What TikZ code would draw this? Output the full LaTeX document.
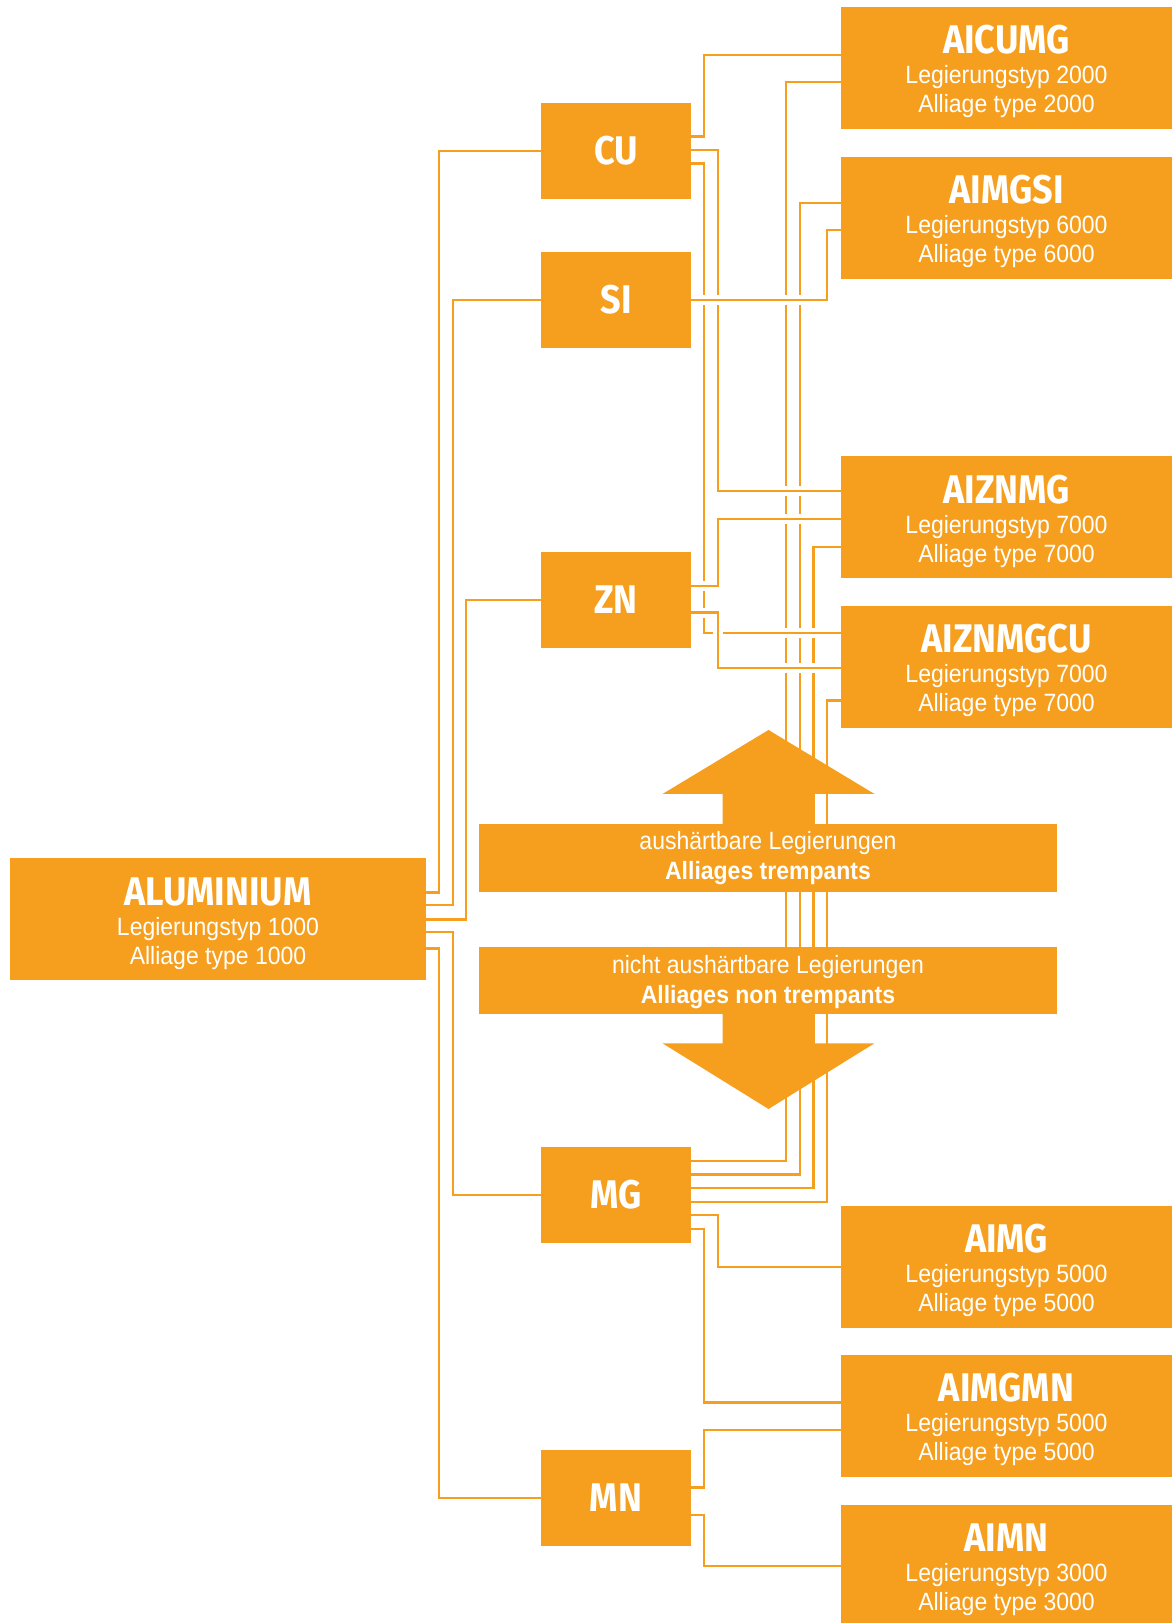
\documentclass[tikz,border=0pt]{standalone}
\usepackage{fontspec}
\newfontfamily\headfont[FakeStretch=0.9]{Fira Sans}
\newfontfamily\subfont[FakeStretch=0.92]{Liberation Sans}
\definecolor{alu}{RGB}{246,159,30}

\begin{document}
\begin{tikzpicture}[x=1pt,y=1pt,
    alloy/.style={fill=alu, minimum width=331pt, minimum height=122pt, inner sep=0pt},
    elem/.style={fill=alu, minimum width=150pt, minimum height=96pt, inner sep=0pt,
      text=white, font=\headfont\bfseries\fontsize{40}{40}\selectfont},
    head/.style={anchor=base, inner sep=0pt, text=white,
      font=\headfont\bfseries\fontsize{40}{40}\selectfont},
    sub/.style={anchor=base, inner sep=0pt, text=white,
      font=\subfont\fontsize{25}{29}\selectfont},
    banner/.style={fill=alu, minimum width=578pt, minimum height=67.4pt, inner sep=0pt},
    link/.style={draw=alu, line width=2.4pt, preaction={draw=white, line width=10pt}}]
  \useasboundingbox (0,0) rectangle (1172,1623);

  \begin{scope}
    % boxes
    \node[alloy] (aluminium) at (218,703.6) [minimum width=416pt] {};
    \node[head] (aluminium-h) at ([yshift=-47]aluminium.north) {ALUMINIUM};
    \node[sub] (aluminium-l) at ([yshift=-77]aluminium.north) {Legierungstyp 1000};
    \node[sub] (aluminium-a) at ([yshift=-106]aluminium.north) {Alliage type 1000};

    \node[elem] (cu) at (616,1472) {CU};
    \node[elem] (si) at (616,1323) {SI};
    \node[elem] (zn) at (616,1023) {ZN};
    \node[elem] (mg) at (616,428) {MG};
    \node[elem] (mn) at (616,125) {MN};

    \node[alloy] (aicumg) at (1006.5,1555) {};
    \node[head] (aicumg-h) at ([yshift=-47]aicumg.north) {AICUMG};
    \node[sub] (aicumg-l) at ([yshift=-77]aicumg.north) {Legierungstyp 2000};
    \node[sub] (aicumg-a) at ([yshift=-106]aicumg.north) {Alliage type 2000};

    \node[alloy] (aimgsi) at (1006.5,1405) {};
    \node[head] (aimgsi-h) at ([yshift=-47]aimgsi.north) {AIMGSI};
    \node[sub] (aimgsi-l) at ([yshift=-77]aimgsi.north) {Legierungstyp 6000};
    \node[sub] (aimgsi-a) at ([yshift=-106]aimgsi.north) {Alliage type 6000};

    \node[alloy] (aiznmg) at (1006.5,1105.5) {};
    \node[head] (aiznmg-h) at ([yshift=-47]aiznmg.north) {AIZNMG};
    \node[sub] (aiznmg-l) at ([yshift=-77]aiznmg.north) {Legierungstyp 7000};
    \node[sub] (aiznmg-a) at ([yshift=-106]aiznmg.north) {Alliage type 7000};

    \node[alloy] (aiznmgcu) at (1006.5,956) {};
    \node[head] (aiznmgcu-h) at ([yshift=-47]aiznmgcu.north) {AIZNMGCU};
    \node[sub] (aiznmgcu-l) at ([yshift=-77]aiznmgcu.north) {Legierungstyp 7000};
    \node[sub] (aiznmgcu-a) at ([yshift=-106]aiznmgcu.north) {Alliage type 7000};

    \node[alloy] (aimg) at (1006.5,356) {};
    \node[head] (aimg-h) at ([yshift=-47]aimg.north) {AIMG};
    \node[sub] (aimg-l) at ([yshift=-77]aimg.north) {Legierungstyp 5000};
    \node[sub] (aimg-a) at ([yshift=-106]aimg.north) {Alliage type 5000};

    \node[alloy] (aimgmn) at (1006.5,207) {};
    \node[head] (aimgmn-h) at ([yshift=-47]aimgmn.north) {AIMGMN};
    \node[sub] (aimgmn-l) at ([yshift=-77]aimgmn.north) {Legierungstyp 5000};
    \node[sub] (aimgmn-a) at ([yshift=-106]aimgmn.north) {Alliage type 5000};

    \node[alloy] (aimn) at (1006.5,57) {};
    \node[head] (aimn-h) at ([yshift=-47]aimn.north) {AIMN};
    \node[sub] (aimn-l) at ([yshift=-77]aimn.north) {Legierungstyp 3000};
    \node[sub] (aimn-a) at ([yshift=-106]aimn.north) {Alliage type 3000};

    % MG
    \draw[link] ([yshift=34]mg.east) -- ++(95,0) |- ([yshift=-14]aicumg.west);
    \draw[link] ([yshift=20.3]mg.east) -- ++(109,0) |- ([yshift=15]aimgsi.west);
    \draw[link] ([yshift=7]mg.east) -- ++(122.3,0) |- ([yshift=-29.5]aiznmg.west);
    \draw[link] ([yshift=-7]mg.east) -- ++(135.7,0) |- ([yshift=-33.7]aiznmgcu.west);
    \draw[link] ([yshift=-20.3]mg.east) -- ++(27,0) |- (aimg.west);
    \draw[link] ([yshift=-34]mg.east) -- ++(13,0) |- ([yshift=13.3]aimgmn.west);

    % CU
    \draw[link] ([yshift=14.3]cu.east) -- ++(13,0) |- ([yshift=13]aicumg.west);
    \draw[link] ([yshift=1]cu.east) -- ++(27,0) |- ([yshift=26.5]aiznmg.west);
    \draw[link] ([yshift=-12.7]cu.east) -- ++(13,0) |- ([yshift=34]aiznmgcu.west);

    % ZN
    \draw[link] ([yshift=14]zn.east) -- ++(27,0) |- ([yshift=-1.5]aiznmg.west);
    \draw[link] ([yshift=-12.7]zn.east) -- ++(27,0) |- ([yshift=-1]aiznmgcu.west);

    % SI
    \draw[link] (si.east) -- ++(136,0) |- ([yshift=-12]aimgsi.west);

    % MN
    \draw[link] ([yshift=10.3]mn.east) -- ++(13,0) |- ([yshift=-14]aimgmn.west);
    \draw[link] ([yshift=-17]mn.east) -- ++(13,0) |- (aimn.west);

    % ALUMINIUM
    \draw[link] ([yshift=27]aluminium.east) -- ++(13,0) |- (cu.west);
    \draw[link] ([yshift=14.4]aluminium.east) -- ++(26.5,0) |- (si.west);
    \draw[link] (aluminium.east) -- ++(40,0) |- (zn.west);
    \draw[link] ([yshift=-12.6]aluminium.east) -- ++(26.5,0) |- (mg.west);
    \draw[link] ([yshift=-29]aluminium.east) -- ++(13,0) |- (mn.west);

    % arrows
    \fill[alu] (768.5,893) -- (874.5,829) -- (814.5,829) -- (814.5,795) -- (722.5,795)
      -- (722.5,829) -- (662.5,829) -- cycle;
    \fill[alu] (722.5,612) -- (722.5,579.7) -- (662.5,579.7) -- (768.5,514) -- (874.5,579.7)
      -- (814.5,579.7) -- (814.5,612) -- cycle;

    \node[banner] (hard) at (768,765) {};
    \node[sub] (hard-de) at ([yshift=-25]hard.north) {aush\"artbare Legierungen};
    \node[sub] (hard-fr) at ([yshift=-55.7]hard.north) {\bfseries Alliages trempants};

    \node[banner] (soft) at (768,642.65) {};
    \node[sub] (soft-de) at ([yshift=-26.6]soft.north) {nicht aush\"artbare Legierungen};
    \node[sub] (soft-fr) at ([yshift=-56.6]soft.north) {\bfseries Alliages non trempants};
  \end{scope}
\end{tikzpicture}
\end{document}
